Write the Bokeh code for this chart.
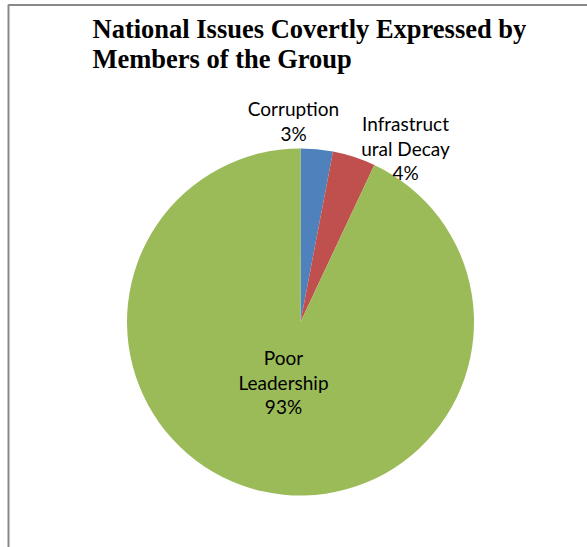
import math
from bokeh.plotting import figure
from bokeh.models import Range1d, ColumnDataSource
from bokeh.core.properties import value
from bokeh.embed import file_html
from bokeh.resources import INLINE

# ---- data ----
categories = ["Corruption", "Infrastructural Decay", "Poor Leadership"]
percents = [3, 4, 93]
label_lines = [["Corruption", "3%"], ["Infrastruct", "ural Decay", "4%"], ["Poor", "Leadership", "93%"]]
colors = ["#4F81BD", "#C0504D", "#9BBB59"]
title_lines = ["National Issues Covertly Expressed by", "Members of the Group"]

W, H = 587, 547
p = figure(width=W, height=H, output_backend="svg", toolbar_location=None,
           x_range=Range1d(0, W), y_range=Range1d(0, H),
           x_axis_location=None, y_axis_location=None, min_border=0,
           outline_line_color=None)
p.grid.visible = False
p.background_fill_color = "white"
p.border_fill_color = "white"

def Y(py):
    return H - py

# border (partially visible chart frame)
p.line(x=[8, 8, W + 5], y=[Y(H + 5), Y(4.5), Y(4.5)], line_color="#888888", line_width=2)

# pie
cx, cy, r = 300, Y(321.5), 173.5
total = sum(percents)
starts, ends = [], []
cum = 0.0
for v in percents:
    starts.append(math.pi / 2 - 2 * math.pi * cum / total)
    cum += v
    ends.append(math.pi / 2 - 2 * math.pi * cum / total)
src = ColumnDataSource(dict(start=starts, end=ends, color=colors, cat=categories))
p.wedge(x=cx, y=cy, radius=r, start_angle="start", end_angle="end", direction="clock",
        fill_color="color", line_color=None, source=src)

# data labels (anchor = pixel centre of first line)
label_anchor = [(293, 108), (405, 123), (283, 357)]
line_gap = 24.5
tx, ty, tt = [], [], []
for (ax, ay), lines in zip(label_anchor, label_lines):
    for i, s in enumerate(lines):
        tx.append(ax)
        ty.append(Y(ay + i * line_gap))
        tt.append(s)
p.text(x=tx, y=ty, text=tt, text_align="center", text_baseline="middle",
       text_font=value("Lato"), text_font_size="19px", text_color="#000000")

# title
p.text(x=[92, 92], y=[Y(28), Y(58)], text=title_lines, text_align="left", text_baseline="middle",
       text_font=value("Liberation Serif"), text_font_style="bold", text_font_size="26.5px",
       text_color="#000000")

open("out.html", "w").write(file_html(p, INLINE))
